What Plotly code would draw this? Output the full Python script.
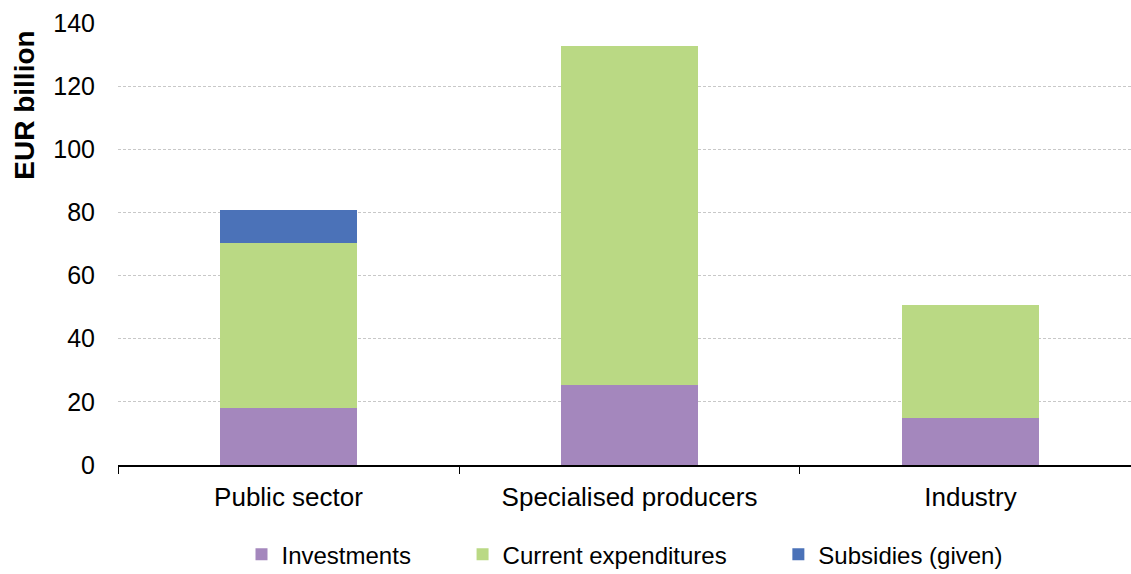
import plotly.graph_objects as go

categories = ["Public sector", "Specialised producers", "Industry"]
investments = [18.1, 25.4, 15.0]
current_expenditures = [52.3, 107.3, 35.7]
subsidies_given = [10.4, 0, 0]

NBSP = "\u00a0"
series = [
    ("Investments" + NBSP * 7, investments, "#A487BD"),
    ("Current expenditures" + NBSP * 7, current_expenditures, "#BAD984"),
    ("Subsidies (given)", subsidies_given, "#4B72B8"),
]

fig = go.Figure()
for name, vals, col in series:
    fig.add_trace(go.Bar(
        x=categories, y=vals, name=name,
        marker=dict(color=col, line=dict(width=0)),
        width=0.4,
    ))

font_family = "Liberation Sans, Arial, sans-serif"
fig.update_layout(
    barmode="stack",
    width=1131, height=574,
    margin=dict(l=118, r=0, t=23, b=109, autoexpand=False),
    paper_bgcolor="white", plot_bgcolor="white",
    font=dict(family=font_family, size=25, color="black"),
    showlegend=True,
    legend=dict(
        orientation="h", x=0.5, xanchor="center", y=-0.203, yanchor="middle",
        font=dict(size=24), traceorder="normal",
        itemwidth=30,
    ),
    xaxis=dict(
        range=[-0.5, 2.4707],
        showline=True, linecolor="black", linewidth=1.5,
        ticks="outside", tickson="boundaries", ticklen=7, tickcolor="black",
        ticklabelstandoff=8, tickfont=dict(size=26),
        showgrid=False,
    ),
    yaxis=dict(
        range=[0, 140], dtick=20,
        showline=False, zeroline=False,
        showgrid=True, gridcolor="#C8C8C8", gridwidth=1, griddash="3px,2px",
        ticks="", ticklabelstandoff=22,
    ),
    annotations=[dict(
        text="<b>EUR billion</b>", textangle=-90,
        xref="paper", yref="paper", x=-0.0918, y=0.986,
        xanchor="center", yanchor="top", showarrow=False,
        font=dict(size=28),
    )],
)

fig.write_html("out.html")
